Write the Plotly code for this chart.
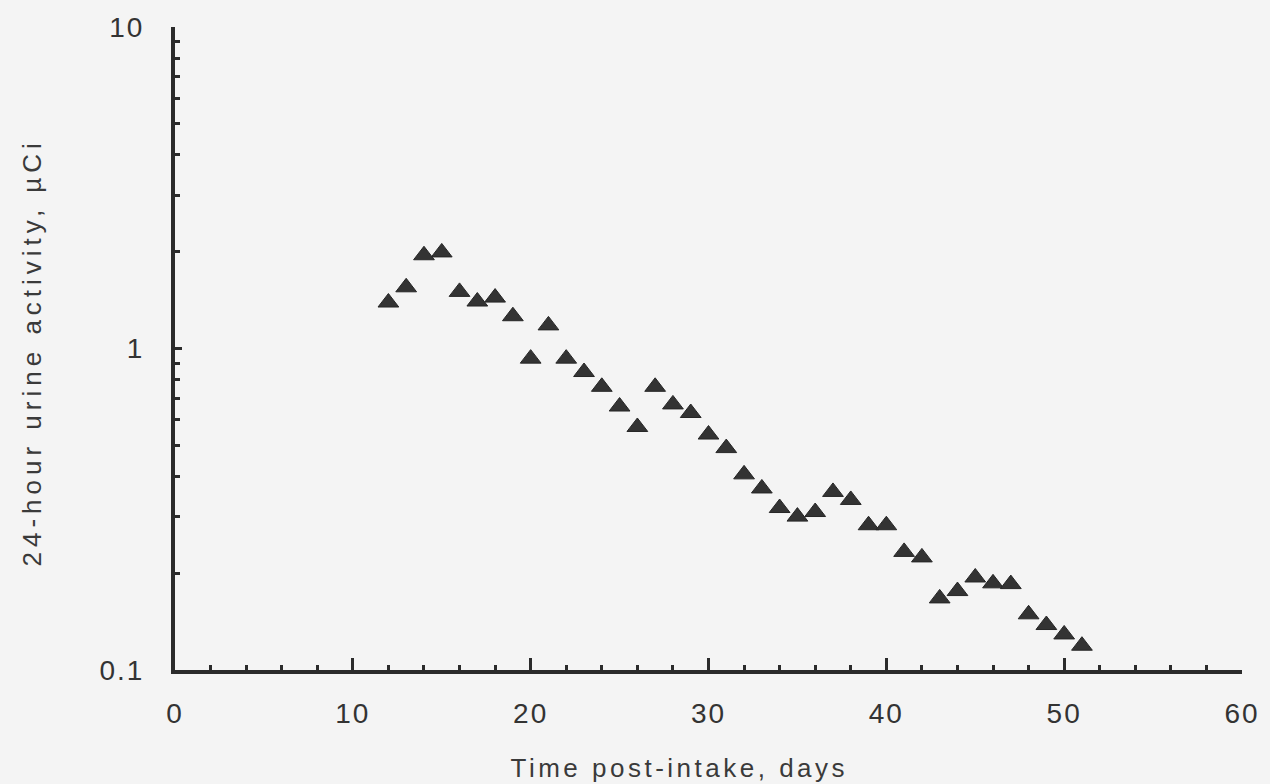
import plotly.graph_objects as go

# Data
days = list(range(12, 52))
activity = [1.39, 1.55, 1.95, 1.99, 1.50, 1.40, 1.44, 1.26, 0.93, 1.18,
            0.93, 0.845, 0.76, 0.66, 0.57, 0.76, 0.67, 0.63, 0.54, 0.49,
            0.406, 0.367, 0.319, 0.30, 0.31, 0.358, 0.338, 0.282, 0.282, 0.233,
            0.224, 0.167, 0.176, 0.194, 0.186, 0.185, 0.149, 0.138, 0.129, 0.119]

x_ticks = [0, 10, 20, 30, 40, 50, 60]
y_ticks = [0.1, 1, 10]
y_ticktext = ["0.1", "1", "10"]
y_minor = [0.2, 0.3, 0.4, 0.5, 0.6, 0.7, 0.8, 0.9, 2, 3, 4, 5, 6, 7, 8, 9]

x_title = "Time post-intake, days"
y_title = "24-hour urine activity, µCi"

ink = "#2b2b2b"
font_family = "Liberation Sans, Arial, sans-serif"

fig = go.Figure()
fig.add_trace(go.Scatter(
    x=days, y=activity, mode="markers",
    marker=dict(symbol="triangle-up", size=18, color="#333333",
                line=dict(color="#262626", width=1)),
    showlegend=False,
))

fig.update_layout(
    width=1270, height=784,
    margin=dict(l=175, r=22, t=24, b=114),
    paper_bgcolor="#f4f4f4", plot_bgcolor="#f4f4f4",
    font=dict(family=font_family, size=26, color="#333333"),
    annotations=[
        dict(text=x_title, xref="paper", yref="paper", x=0.473, y=0,
             xanchor="center", yanchor="middle", yshift=-98, showarrow=False,
             font=dict(family=font_family, size=26, color="#3a3a3a")),
        dict(text=y_title, xref="paper", yref="paper", x=0, y=0.493,
             xanchor="center", yanchor="middle", xshift=-143, textangle=-90,
             showarrow=False,
             font=dict(family=font_family, size=26, color="#3a3a3a")),
    ],
)

fig.update_xaxes(
    range=[0, 60], tickvals=x_ticks, showgrid=False, zeroline=False,
    showline=True, linecolor=ink, linewidth=4,
    ticks="inside", ticklen=12, tickwidth=3, tickcolor=ink,
    ticklabelstandoff=15,
    tickfont=dict(family=font_family, size=28, color="#333333"),
    minor=dict(dtick=2, ticks="inside", ticklen=5, tickwidth=3,
               tickcolor=ink, showgrid=False),
)
fig.update_yaxes(
    type="log", range=[-1, 1], tickvals=y_ticks, ticktext=y_ticktext,
    showgrid=False, zeroline=False,
    showline=True, linecolor=ink, linewidth=4,
    ticks="inside", ticklen=7, tickwidth=3, tickcolor=ink,
    ticklabelstandoff=21,
    tickfont=dict(family=font_family, size=28, color="#333333"),
    minor=dict(tickvals=y_minor, ticks="inside", ticklen=5, tickwidth=3,
               tickcolor=ink, showgrid=False),
)

post = """
document.querySelectorAll('.annotation-text').forEach(function(e){
  e.style.letterSpacing = (e.textContent.indexOf('Time') === 0) ? '3.5px' : '5px';
});
document.querySelectorAll('.xtick text, .ytick text').forEach(function(e){
  e.style.letterSpacing = '2px';
});
"""

fig.write_html("out.html", post_script=post)
